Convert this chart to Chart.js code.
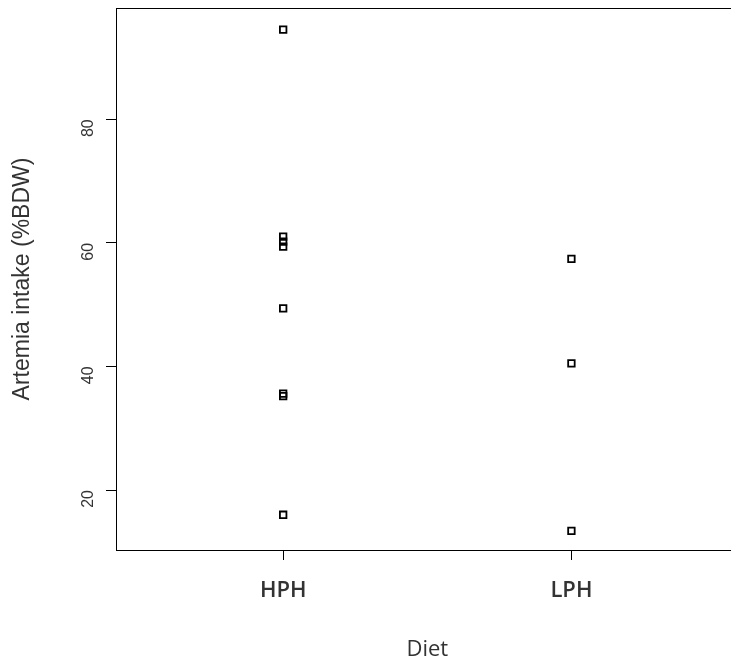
<!DOCTYPE html>
<html>
<head>
<meta charset="utf-8">
<script src="https://cdn.jsdelivr.net/npm/chart.js@4"></script>
<style>
  html, body { margin: 0; padding: 0; background: #fff; overflow: hidden; }
  #wrap { width: 745px; height: 666px; }
</style>
</head>
<body>
<div id="wrap"><canvas id="chart" width="745" height="666"></canvas></div>
<script>
// categories on the x axis
const diets = ['HPH', 'LPH'];
// Artemia intake (%BDW) per fish
const hphValues = [94.5, 61, 60.2, 59.4, 49.4, 35.6, 35.2, 16];
const lphValues = [57.4, 40.5, 13.4];
const yTicks = [20, 40, 60, 80];

const points = [];
hphValues.forEach(v => points.push({ x: 1, y: v }));
lphValues.forEach(v => points.push({ x: 2, y: v }));

// draws the R style box around the plot region
const boxPlugin = {
    id: 'box',
    afterDraw(chart) {
        const a = chart.chartArea;
        const ctx = chart.ctx;
        ctx.save();
        ctx.strokeStyle = '#000';
        ctx.lineWidth = 1;
        ctx.strokeRect(Math.round(a.left) + 0.5, Math.round(a.top) + 0.5,
            Math.round(a.right - a.left), Math.round(a.bottom - a.top));
        ctx.restore();
    }
};

const ctx = document.getElementById('chart').getContext('2d');
new Chart(ctx, {
    type: 'scatter',
    data: {
        datasets: [{
            data: points,
            pointStyle: 'rect',
            pointRadius: 4.6,
            pointBorderWidth: 1.8,
            pointBorderColor: '#000',
            pointBackgroundColor: 'rgba(0,0,0,0)'
        }]
    },
    options: {
        responsive: false,
        animation: false,
        layout: { padding: { top: 8, right: 5, bottom: 0, left: 0 } },
        plugins: { legend: { display: false }, tooltip: { enabled: false } },
        scales: {
            x: {
                type: 'linear',
                min: 0.42,
                max: 2.58,
                afterFit(scale) {
                    scale.height = 116;
                    scale.paddingLeft = 0;
                    scale.paddingRight = 0;
                },
                afterBuildTicks(scale) {
                    scale.ticks = diets.map((d, i) => ({ value: i + 1 }));
                },
                ticks: {
                    callback: v => diets[v - 1],
                    color: '#333',
                    padding: 18,
                    maxRotation: 0,
                    font: { family: 'Open Sans', size: 22, weight: '600' }
                },
                grid: {
                    drawOnChartArea: false,
                    drawTicks: true,
                    tickLength: 10,
                    tickColor: '#000'
                },
                border: { display: false },
                title: {
                    display: true,
                    text: 'Diet',
                    color: '#333',
                    padding: { top: 4, bottom: 3 },
                    font: { family: 'Open Sans', size: 22 }
                }
            },
            y: {
                min: 10.3,
                max: 98,
                afterFit(scale) {
                    scale.width = 116;
                    scale.paddingTop = 0;
                    scale.paddingBottom = 0;
                },
                afterBuildTicks(scale) {
                    scale.ticks = yTicks.map(v => ({ value: v }));
                },
                ticks: {
                    color: '#333',
                    minRotation: 90,
                    maxRotation: 90,
                    padding: 17,
                    font: { family: 'Liberation Sans', size: 16 }
                },
                grid: {
                    drawOnChartArea: false,
                    drawTicks: true,
                    tickLength: 10,
                    tickColor: '#000'
                },
                border: { display: false },
                title: {
                    display: true,
                    text: 'Artemia intake (%BDW)',
                    color: '#333',
                    padding: { top: 9, bottom: 4 },
                    font: { family: 'Liberation Sans', size: 23 }
                }
            }
        }
    },
    plugins: [boxPlugin]
});
</script>
</body>
</html>
